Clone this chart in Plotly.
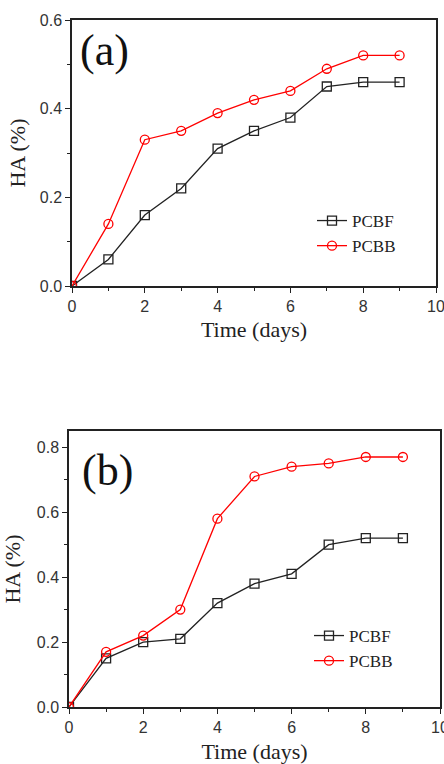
import plotly.graph_objects as go

days = [0, 1, 2, 3, 4, 5, 6, 7, 8, 9]
a_pcbf = [0, 0.06, 0.16, 0.22, 0.31, 0.35, 0.38, 0.45, 0.46, 0.46]
a_pcbb = [0, 0.14, 0.33, 0.35, 0.39, 0.42, 0.44, 0.49, 0.52, 0.52]
b_pcbf = [0, 0.15, 0.20, 0.21, 0.32, 0.38, 0.41, 0.50, 0.52, 0.52]
b_pcbb = [0, 0.17, 0.22, 0.30, 0.58, 0.71, 0.74, 0.75, 0.77, 0.77]

W, H = 444, 764
fig = go.Figure()

def add(x, y, name, color, symbol, xa, ya, legend):
    fig.add_trace(go.Scatter(
        x=x, y=y, name=name, mode="lines+markers", xaxis=xa, yaxis=ya,
        legend=legend,
        line=dict(color=color, width=1.3),
        marker=dict(symbol=symbol, size=9, color=color,
                    line=dict(color=color, width=1.3)),
    ))

add(days, a_pcbf, "PCBF", "#222222", "square-open", "x", "y", "legend")
add(days, a_pcbb, "PCBB", "#ff0000", "circle-open", "x", "y", "legend")
add(days, b_pcbf, "PCBF", "#222222", "square-open", "x2", "y2", "legend2")
add(days, b_pcbb, "PCBB", "#ff0000", "circle-open", "x2", "y2", "legend2")

tickfont = dict(family="Liberation Sans, Arial, sans-serif", size=16, color="#333333")
titlefont = dict(family="Liberation Serif, Times New Roman, serif", size=22, color="#222222")

def xaxis(dom, anchor, standoff):
    return dict(domain=dom, anchor=anchor, range=[0, 10], dtick=2, tick0=0,
                automargin=False, ticklabeloverflow="allow",
                showgrid=False, zeroline=False, showline=True, linecolor="#222222",
                linewidth=1.5, mirror=True, ticks="outside", ticklen=5, tickwidth=1.2,
                tickcolor="#222222", tickfont=tickfont,
                minor=dict(dtick=1, ticks="outside", ticklen=3, tickcolor="#222222"),
                title=dict(text="Time (days)", font=titlefont, standoff=standoff))

def yaxis(dom, anchor, rng, standoff):
    return dict(domain=dom, anchor=anchor, range=rng, dtick=0.2, tick0=0,
                tickformat=".1f", automargin=False, ticklabeloverflow="allow",
                showgrid=False, zeroline=False, showline=True, linecolor="#222222",
                linewidth=1.5, mirror=True, ticks="outside", ticklen=5, tickwidth=1.2,
                tickcolor="#222222", tickfont=tickfont,
                minor=dict(dtick=0.1, ticks="outside", ticklen=3, tickcolor="#222222"),
                title=dict(text="HA (%)", font=titlefont, standoff=standoff))

legfont = dict(family="Liberation Serif, Times New Roman, serif", size=17, color="#222222")

fig.update_layout(
    width=W, height=H, margin=dict(l=0, r=0, t=0, b=0, autoexpand=False),
    paper_bgcolor="white", plot_bgcolor="white", showlegend=True,
    xaxis=xaxis([72 / W, 436 / W], "y", 8),
    yaxis=yaxis([1 - 286 / H, 1 - 20 / H], "x", [0, 0.6], 8),
    xaxis2=xaxis([69 / W, 440 / W], "y2", 9),
    yaxis2=yaxis([1 - 707 / H, 1 - 431 / H], "x2", [0, 0.85], 10),
    legend=dict(x=312 / W, y=1 - 203 / H, xanchor="left", yanchor="top",
                bgcolor="rgba(0,0,0,0)", font=legfont, tracegroupgap=0,
                itemwidth=30),
    legend2=dict(x=309 / W, y=1 - 618 / H, xanchor="left", yanchor="top",
                 bgcolor="rgba(0,0,0,0)", font=legfont, tracegroupgap=0,
                 itemwidth=30),
    annotations=[
        dict(text="(a)", x=78 / W, y=1 - 24 / H, xref="paper", yref="paper",
             xanchor="left", yanchor="top", showarrow=False,
             font=dict(family="Liberation Serif, Times New Roman, serif", size=44, color="#111111")),
        dict(text="(b)", x=80 / W, y=1 - 444 / H, xref="paper", yref="paper",
             xanchor="left", yanchor="top", showarrow=False,
             font=dict(family="Liberation Serif, Times New Roman, serif", size=44, color="#111111")),
    ],
)

fig.write_html("out.html", config={"displayModeBar": False},
               post_script="document.body.style.margin='0';")
